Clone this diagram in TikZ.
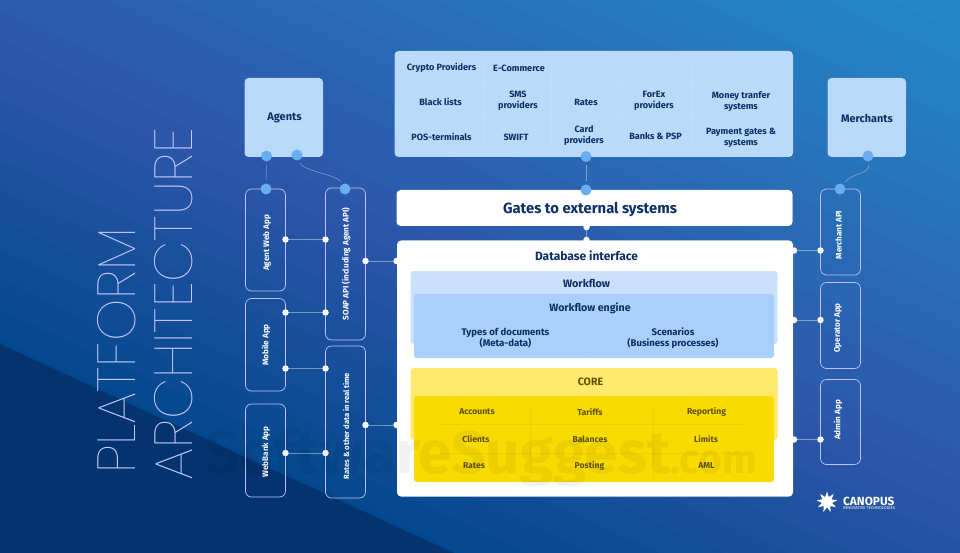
\documentclass[tikz,border=0pt]{standalone}
\usepackage{fontspec}
\setmainfont{Fira Sans}
\newfontfamily\thinfont{Poppins Thin}
\usetikzlibrary{shapes.geometric,shadows}

\definecolor{navytext}{HTML}{0B2F66}
\definecolor{palebox}{HTML}{B9DAF9}
\definecolor{dotblue}{HTML}{6AAEF2}
\definecolor{flowpale}{HTML}{CBE0FB}
\definecolor{flowblue}{HTML}{A9CFFA}
\definecolor{corepale}{HTML}{FDE96C}
\definecolor{coreyellow}{HTML}{F8DB00}
\definecolor{coretext}{HTML}{5F5200}
\definecolor{shadowblue}{HTML}{0F3F8A}
\definecolor{bgtop}{HTML}{2488C6}
\definecolor{bgmid}{HTML}{2C56A9}
\definecolor{bglow}{HTML}{02488C}
\definecolor{bgdark}{HTML}{03346F}

\tikzset{
  palecard/.style={rectangle,rounded corners=4pt,fill=palebox,inner sep=0pt,
    general shadow={xshift=3pt,yshift=-3pt,fill=shadowblue,opacity=.6}},
  whitecard/.style={palecard,fill=white,
    general shadow={xshift=4pt,yshift=-4pt,fill=shadowblue,opacity=.6}},
  innerbox/.style={rectangle,rounded corners=3pt,inner sep=0pt},
  appbox/.style={rectangle,rounded corners=6pt,draw=white!75!blue,line width=.7pt,inner sep=0pt,minimum width=40pt},
  bigdot/.style={circle,fill=dotblue,inner sep=0pt,minimum size=11pt},
  smalldot/.style={circle,fill=white,inner sep=0pt,minimum size=6.5pt},
  conn/.style={draw=white,draw opacity=.4,line width=.6pt,shorten <=3pt,shorten >=3pt},
  wire/.style={draw=white,draw opacity=.4,line width=.6pt},
  gridline/.style={draw=white,draw opacity=.1,line width=.5pt},
  darkline/.style={draw=coretext,draw opacity=.07,line width=.5pt},
  lbl/.style={text=navytext,font=\bfseries\fontsize{9.1}{11}\selectfont,align=center},
  corelbl/.style={text=coretext,font=\bfseries\fontsize{8.6}{10.4}\selectfont},
  applbl/.style={text=white,rotate=90,font=\bfseries\fontsize{8.1}{10}\selectfont},
  titlelbl/.style={text=white!80!blue,rotate=90,font=\thinfont\fontsize{53.6}{60}\selectfont}
}

\begin{document}
\begin{tikzpicture}[x=1pt,y=-1pt]
\useasboundingbox (0,0) rectangle (960,553);
\begin{scope}
\clip (0,0) rectangle (960,553);
\fill[bgtop] (0,0) rectangle (960,553);
% stepped diagonal bands
\foreach \bandt in {-440,-410,...,40}{
  \pgfmathsetmacro\bandpct{(\bandt+440)/4.8}
  \colorlet{bandcol}{bgmid!\bandpct!bgtop}
  \fill[bandcol] (0,\bandt) -- (960,\bandt+442) -- (960,1500) -- (0,1500) -- cycle;
}
\foreach \bandt in {70,100,...,340}{
  \pgfmathsetmacro\bandpct{(\bandt-40)/3}
  \colorlet{bandcol}{bglow!\bandpct!bgmid}
  \fill[bandcol] (0,\bandt) -- (960,\bandt+442) -- (960,1500) -- (0,1500) -- cycle;
}
\fill[bgdark] (0,344) -- (960,786) -- (0,786) -- cycle;
\end{scope}

% title
\node[titlelbl] (titleone) at (116.5,351) {PLATFORM};
\node[titlelbl] (titletwo) at (173.5,304) {ARCHITECTURE};

% top row
\node[palecard,minimum width=78.5pt,minimum height=79pt] (agents) at (283.75,117.5) {};
\node[lbl,font=\bfseries\fontsize{11}{13}\selectfont] (agentstxt) at (284.5,117.5) {Agents};
\node[palecard,minimum width=78.5pt,minimum height=79pt] (merchants) at (866.75,117.5) {};
\node[lbl,font=\bfseries\fontsize{10.9}{13}\selectfont] (merchantstxt) at (867,118.5) {Merchants};
\node[palecard,minimum width=398.5pt,minimum height=106pt] (providers) at (593.75,104) {};

% provider grid
\draw[gridline] (411,82.5) -- (781,82.5);
\draw[gridline] (411,117.5) -- (781,117.5);
\foreach \gridx in {483,551.5,618,691}
  \draw[gridline] (\gridx,60) -- (\gridx,145);
\node[lbl] (crypto) at (441.5,68) {Crypto Providers};
\node[lbl] (ecommerce) at (519,68) {E-Commerce};
\node[lbl] (blacklists) at (440.5,101.5) {Black lists};
\node[lbl] (sms) at (518,100.5) {SMS\\providers};
\node[lbl] (rates) at (586,102) {Rates};
\node[lbl] (forex) at (654,101) {ForEx\\providers};
\node[lbl] (money) at (741,101.5) {Money tranfer\\systems};
\node[lbl] (pos) at (441.5,137) {POS-terminals};
\node[lbl] (swift) at (516,137) {SWIFT};
\node[lbl] (card) at (584,136) {Card\\providers};
\node[lbl] (banks) at (655.5,136.5) {Banks \& PSP};
\node[lbl] (gates) at (741,138) {Payment gates \&\\systems};

% middle blocks
\node[whitecard,minimum width=396pt,minimum height=36pt] (gatesbox) at (594.5,208) {};
\node[lbl,font=\bfseries\fontsize{14.8}{17}\selectfont] (gatestxt) at (590,209.5) {Gates to external systems};
\node[whitecard,minimum width=396pt,minimum height=256pt] (dbbox) at (595,368.5) {};
\node[lbl,font=\bfseries\fontsize{12}{14}\selectfont] (dbtxt) at (586.5,256) {Database interface};

% workflow
\node[innerbox,fill=flowpale,minimum width=367pt,minimum height=73pt] (workflow) at (594,307.5) {};
\node[innerbox,fill=flowblue,minimum width=360pt,minimum height=64pt] (engine) at (594,326) {};
\draw[draw=white,draw opacity=.1,line width=.5pt] (589.5,323) -- (589.5,355);
\node[lbl,font=\bfseries\fontsize{10.8}{13}\selectfont] (flowtxt) at (586.5,283) {Workflow};
\node[lbl,font=\bfseries\fontsize{10.6}{13}\selectfont] (enginetxt) at (590,308) {Workflow engine};
\node[lbl,font=\bfseries\fontsize{9.6}{11.6}\selectfont] (types) at (505.5,338) {Types of documents\\(Meta-data)};
\node[lbl,font=\bfseries\fontsize{9.6}{11.6}\selectfont] (scen) at (673,338) {Scenarios\\(Business processes)};

% core
\node[innerbox,fill=corepale,minimum width=367pt,minimum height=72pt] (core) at (594,404) {};
\node[innerbox,fill=coreyellow,minimum width=360pt,minimum height=86pt] (coreinner) at (594,439) {};
\node[corelbl,font=\bfseries\fontsize{10.6}{12}\selectfont] (coretxt) at (590.5,382) {CORE};
\draw[darkline] (440,424.5) -- (745,424.5);
\draw[darkline] (440,453) -- (745,453);
\foreach \gridx in {530,653}
  \draw[darkline] (\gridx,404) -- (\gridx,478);
\node[corelbl] (accounts) at (477,412) {Accounts};
\node[corelbl] (tariffs) at (590,412) {Tariffs};
\node[corelbl] (reporting) at (706.5,412) {Reporting};
\node[corelbl] (clients) at (476,439) {Clients};
\node[corelbl] (balances) at (590,439) {Balances};
\node[corelbl] (limits) at (706,439) {Limits};
\node[corelbl] (ratescore) at (474,465.5) {Rates};
\node[corelbl] (posting) at (589.5,465.5) {Posting};
\node[corelbl] (aml) at (706.5,465.5) {AML};

% app boxes, left
\node[appbox,minimum height=102pt] (agentweb) at (265.5,240) {};
\node[appbox,minimum height=92.5pt] (mobile) at (265.5,344.75) {};
\node[appbox,minimum height=93pt] (webbank) at (265.5,450.5) {};
\node[appbox,minimum height=152pt] (soap) at (345.5,264) {};
\node[appbox,minimum height=152pt] (ratesapp) at (345.5,422) {};
\node[applbl] (agentwebtxt) at (267,243) {Agent Web App};
\node[applbl] (mobiletxt) at (266,345) {Mobile App};
\node[applbl] (webbanktxt) at (266,452) {WebBank App};
\node[applbl] (soaptxt) at (346,264) {SOAP API (including Agent API)};
\node[applbl,font=\bfseries\fontsize{7.6}{9}\selectfont] (ratestxt) at (346,426) {Rates \& other data in real time};

% app boxes, right
\node[appbox,minimum height=86pt] (merchapi) at (840.5,232) {};
\node[appbox,minimum height=86pt] (operator) at (840.5,325.5) {};
\node[appbox,minimum height=85pt] (admin) at (840.5,422) {};
\node[applbl] (merchtxt) at (838.5,235) {Merchant API};
\node[applbl] (operatortxt) at (838,328) {Operator App};
\node[applbl] (admintxt) at (838,420) {Admin App};

% big dots
\node[bigdot] (dagents1) at (266.5,156) {};
\node[bigdot] (dagents2) at (297,155) {};
\node[bigdot] (dweb) at (266,189) {};
\node[bigdot] (dsoap) at (345,189) {};
\node[bigdot] (dprov) at (586,156.5) {};
\node[bigdot] (dgates) at (586,190) {};
\node[bigdot] (dmerch) at (868,156) {};
\node[bigdot] (dmapi) at (840,189) {};
\draw[conn] (dagents1) -- (dweb);
\draw[conn] (dprov) -- (dgates);
\draw[conn] (dagents2) .. controls +(6,16) and +(-8,-14) .. (dsoap);
\draw[conn] (dmerch) .. controls +(2,18) and +(12,-16) .. (dmapi);

% small dots and wires
\foreach \dotname/\dotx/\doty in {a1/285.5/239.5,a2/325.5/239.5,b1/285.5/312.5,b2/325.5/312.5,
  c1/285.5/368.5,c2/325.5/368.5,d1/285.5/453,d2/325.5/453,e1/365.5/261,e2/396.5/261,
  f1/365.5/425,f2/396.5/425,g1/586.5/227,g2/586.5/240,
  h1/794/250.5,h2/820.5/250.5,i1/794/320,i2/820.5/320,j1/794/439.5,j2/820.5/439.5}
  \node[smalldot] (\dotname) at (\dotx,\doty) {};
\foreach \wirea/\wireb in {a1/a2,b1/b2,c1/c2,d1/d2,e1/e2,f1/f2,g1/g2,h1/h2,i1/i2,j1/j2}
  \draw[wire] (\wirea) -- (\wireb);

% logo
\node[star,star points=9,star point ratio=2,fill=white,inner sep=0pt,minimum size=21pt] (logostar) at (827,502) {};
\node[text=white,anchor=west,inner sep=0pt,font=\bfseries\fontsize{11.8}{13}\selectfont] (logotxt) at (843,501) {CANOPUS};
\node[text=white,anchor=west,inner sep=0pt,font=\fontsize{4.2}{5}\selectfont] (logosub) at (843,508.5) {INNOVATIVE TECHNOLOGIES};

% watermark
\node[text=black,opacity=.05,anchor=base west,inner sep=0pt,font=\bfseries\fontsize{60}{64}\selectfont] (mark) at (205,473) {SoftwareSuggest\fontsize{41}{44}\selectfont.com};
\end{tikzpicture}
\end{document}
